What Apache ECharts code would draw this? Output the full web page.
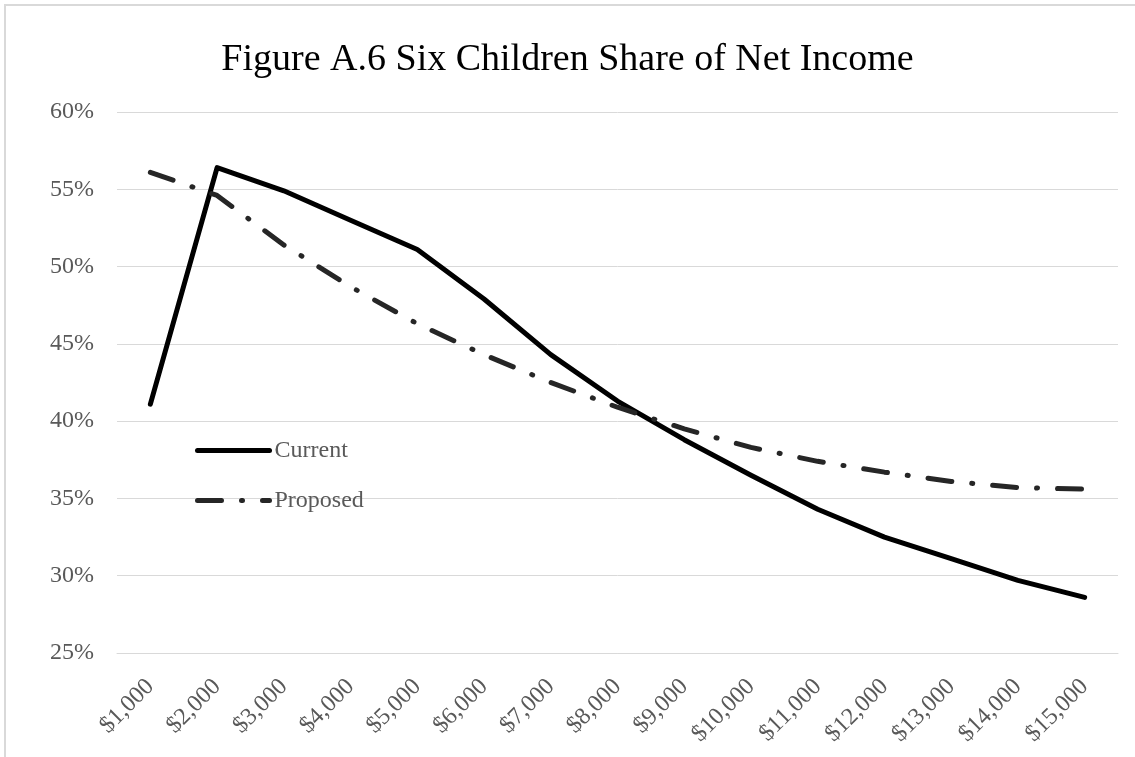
<!DOCTYPE html>
<html>
<head>
<meta charset="utf-8">
<script src="https://cdn.jsdelivr.net/npm/echarts@6/dist/echarts.min.js"></script>
<style>
  html, body { margin: 0; padding: 0; background: #fff; }
  #chart { position: absolute; left: 0; top: 0; width: 1135px; height: 757px; }
  #frame { position: absolute; left: 4px; top: 4px; width: 1140px; height: 760px;
           border-top: 2px solid #d9d9d9; border-left: 2px solid #d9d9d9; pointer-events: none; }
</style>
</head>
<body>
<div id="chart"></div>
<div id="frame"></div>
<script>
const titleText = 'Figure A.6 Six Children Share of Net Income';
const categories = ['$1,000', '$2,000', '$3,000', '$4,000', '$5,000', '$6,000', '$7,000', '$8,000',
  '$9,000', '$10,000', '$11,000', '$12,000', '$13,000', '$14,000', '$15,000'];
const currentValues = [41.1, 56.4, 54.9, 53.0, 51.1, 47.9, 44.3, 41.3, 38.8, 36.5, 34.3, 32.5, 31.1, 29.7, 28.6];
const proposedValues = [56.1, 54.6, 51.4, 48.7, 46.3, 44.3, 42.5, 40.9, 39.5, 38.3, 37.4, 36.7, 36.1, 35.7, 35.6];
const seriesNames = ['Current', 'Proposed'];
const yMin = 25, yMax = 60, yStep = 5;

const serif = 'Liberation Serif, "Times New Roman", serif';
const labelColor = '#595959';
const chart = echarts.init(document.getElementById('chart'), null, { renderer: 'canvas' });
chart.setOption({
  animation: false,
  backgroundColor: '#ffffff',
  title: {
    text: titleText,
    left: 'center',
    top: 36,
    textStyle: { fontFamily: serif, fontSize: 38, fontWeight: 'normal', color: '#000000' }
  },
  grid: { left: 117, right: 17, top: 112, bottom: 104 },
  legend: {
    data: seriesNames,
    orient: 'vertical',
    left: 190,
    top: 433,
    itemWidth: 72,
    itemHeight: 14,
    itemGap: 25,
    lineStyle: { width: 5 },
    itemStyle: { color: 'rgba(0,0,0,0)', borderWidth: 0, opacity: 0 },
    textStyle: { fontFamily: serif, fontSize: 24, color: labelColor, lineHeight: 25 }
  },
  xAxis: {
    type: 'category',
    data: categories,
    boundaryGap: true,
    axisLine: { show: true, lineStyle: { color: '#d9d9d9', width: 1 } },
    axisTick: { show: false },
    axisLabel: { rotate: 45, margin: 30, fontFamily: serif, fontSize: 24, color: labelColor, interval: 0 }
  },
  yAxis: {
    type: 'value',
    min: yMin,
    max: yMax,
    interval: yStep,
    axisLine: { show: false },
    axisTick: { show: false },
    splitLine: { lineStyle: { color: '#d9d9d9', width: 1 } },
    axisLabel: { formatter: '{value}%', margin: 23, fontFamily: serif, fontSize: 24, color: labelColor }
  },
  series: [
    {
      name: seriesNames[0],
      type: 'line',
      data: currentValues,
      symbol: 'none',
      lineStyle: { color: '#000000', width: 5, cap: 'round', join: 'round' },
      itemStyle: { color: '#000000' }
    },
    {
      name: seriesNames[1],
      type: 'line',
      data: proposedValues,
      symbol: 'none',
      lineStyle: { color: '#262626', width: 5, type: [24, 20, 1, 20], cap: 'round', join: 'round' },
      itemStyle: { color: '#262626' }
    }
  ]
});
</script>
</body>
</html>
